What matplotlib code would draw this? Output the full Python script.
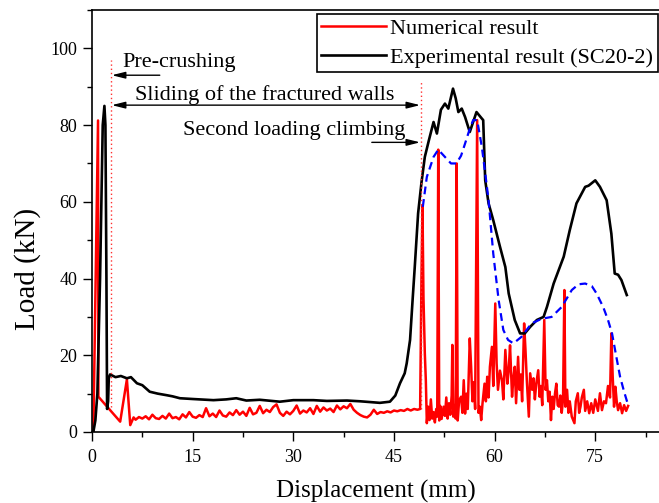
import matplotlib
matplotlib.use("Agg")
import matplotlib.pyplot as plt

# experimental curve (SC20-2)
exp_x = [0, 0.2, 0.5, 0.8, 1.2, 1.6, 1.85, 2.0, 2.15, 2.25, 2.4, 2.5, 2.7, 3.5, 4.3, 5.2,
         5.8, 6.7, 7.5, 8.6, 9.8, 11.1, 12.0, 13.1, 15.0, 18.1, 20.0, 21.5, 23.0, 25.0,
         28.0, 30.0, 33.0, 35.0, 38.0, 40.0, 42.9, 44.4, 45.2, 45.9, 46.6, 46.9, 47.4,
         47.8, 48.1, 48.6, 49.1, 49.6, 50.2, 50.9, 51.4, 52.0, 52.6, 53.1, 53.8, 54.2,
         54.6, 55.1, 55.6, 56.3, 57.3, 58.1, 58.3, 58.6, 59.1, 59.8, 60.8, 61.6, 62.1,
         63.0, 63.8, 64.5, 65.3, 66.3, 67.3, 67.8, 68.8, 70.3, 71.2, 72.2, 73.5, 74.0,
         75.0, 75.7, 76.7, 77.4, 77.9, 78.4, 78.9, 79.7]
exp_y = [0, 0, 3, 10, 40, 80, 85, 80, 40, 6, 8, 14, 15, 14.3, 14.6, 14.0,
         14.3, 12.7, 12.2, 10.5, 10.0, 9.6, 9.3, 8.8, 8.6, 8.3, 8.5, 8.8, 8.2, 8.4,
         7.9, 8.3, 8.3, 8.1, 8.2, 8.0, 7.6, 7.9, 9.5, 12.7, 15.3, 17.9, 24.0,
         35.0, 43.0, 57.0, 65.0, 71.7, 76.0, 80.8, 77.8, 84.0, 85.6, 84.3, 89.5, 87.0,
         83.4, 84.3, 82.1, 78.2, 83.4, 81.7, 81.3, 65.6, 59.6, 55.2, 48.3, 43.0, 36.1,
         29.2, 25.7, 25.7, 27.4, 29.2, 30.0, 32.6, 38.7, 45.7, 52.6, 59.6, 63.9, 64.2,
         65.6, 63.9, 60.4, 51.7, 41.3, 41.0, 39.6, 35.7]

# numerical curve
num_x = [0, 0.2, 0.9, 0.95, 4.2, 5.2, 5.7, 6.2,
         6.5, 7.0, 7.5, 8.0, 8.5, 9.0, 9.5, 10.0, 10.5, 11.0, 11.5, 12.0, 12.5, 13.0,
         13.5, 14.0, 14.5, 15.0, 15.5, 16.0, 16.5, 17.0, 17.5, 18.0, 18.5, 19.0, 19.5,
         20.0, 20.5, 21.0, 21.5, 22.0, 22.5, 23.0, 23.5, 24.0, 24.5, 25.0, 25.5, 26.0,
         26.5, 27.0, 27.5, 28.0, 28.5, 29.0, 29.5, 30.0, 30.5, 31.0, 31.5, 32.0, 32.5,
         33.0, 33.5, 34.0, 34.5, 35.0, 35.5, 36.0, 36.5, 37.0, 37.5, 38.0, 38.5, 39.0,
         39.5, 40.0, 40.5, 41.0, 41.5, 42.0, 42.5, 43.0, 43.5, 44.0, 44.5, 45.0, 45.5,
         46.0, 46.5, 47.0, 47.5, 48.0, 48.5,
         48.9, 49.1, 49.25, 49.4, 49.6, 49.75, 49.9, 50.1, 50.3, 50.5, 50.7, 50.9, 51.1,
         51.3, 51.45, 51.6, 51.75, 51.9, 52.1, 52.4, 52.6, 52.8, 53.0, 53.2, 53.4, 53.6,
         53.7, 53.85, 54.05, 54.2, 54.35, 54.5, 54.7, 55.0, 55.2, 55.4, 55.6, 55.8, 56.0,
         56.3, 56.5, 56.7, 56.9, 57.1, 57.4, 57.6, 57.8, 58.0, 58.2, 58.5, 58.7, 58.9,
         59.1, 59.3, 59.6, 59.8, 60.1, 60.3, 60.5, 60.8, 61.1, 61.3, 61.6, 61.9, 62.1,
         62.3, 62.6, 62.8, 63.0, 63.2, 63.5, 63.7, 63.9, 64.1, 64.4, 64.6, 64.8, 65.1,
         65.3, 65.6, 65.8, 66.0, 66.2, 66.5, 66.7, 66.9, 67.1, 67.4, 67.6, 67.8, 68.0,
         68.2, 68.4, 68.6, 68.8, 69.0, 69.2, 69.4, 69.6, 69.8, 70.0, 70.2, 70.4, 70.55,
         70.8, 71.0, 71.2, 71.5, 71.9, 72.1, 72.4, 72.6, 72.8, 73.0, 73.3, 73.5, 73.8,
         74.1, 74.4, 74.7, 75.0, 75.4, 75.7, 76.0, 76.3, 76.6, 76.9, 77.2, 77.4, 77.6,
         77.8, 78.0, 78.2, 78.4, 78.7, 79.0, 79.3, 79.6, 79.9]
num_y = [0, 0, 81.2, 9.2, 2.7, 13.7, 1.8, 3.8,
         3.2, 3.9, 3.5, 4.1, 3.3, 4.5, 3.6, 3.4, 4.2, 3.5, 4.8, 3.6, 3.9, 3.3,
         4.6, 3.8, 5.2, 4.0, 3.7, 4.4, 3.9, 6.2, 4.1, 4.8, 3.9, 5.6, 4.3,
         4.0, 5.1, 4.4, 5.7, 4.5, 5.3, 4.2, 6.3, 4.6, 5.0, 6.8, 4.9, 5.8,
         5.2, 6.5, 7.2, 5.0, 4.2, 5.3, 4.6, 5.5, 6.9, 4.8, 5.6, 5.1, 6.2,
         4.7, 6.8, 5.3, 6.4, 5.6, 6.1, 5.2, 6.9, 5.9, 6.7, 6.2, 7.3, 5.8,
         5.0, 4.4, 4.0, 3.8, 4.5, 5.8, 4.7, 5.2, 5.0, 5.4, 5.1, 5.6, 5.4,
         5.7, 5.5, 6.0, 5.6, 6.0, 5.8,
         6.0, 40.0, 59.0, 35.0, 20.5, 13.5, 2.3, 6.6, 3.1, 8.5, 3.5, 5.2, 2.5,
         6.0, 4.0, 73.6, 3.0, 6.8, 3.4, 6.6, 4.2, 9.0, 3.5, 7.5, 4.5, 9.5,
         22.7, 4.0, 7.0, 3.5, 70.0, 3.0, 8.0, 9.2, 5.0, 13.5, 4.8, 10.0, 6.0,
         24.4, 17.0, 8.0, 13.0, 6.0, 81.3, 5.0, 6.6, 3.1, 7.5, 12.6, 8.0, 14.4,
         9.0, 17.0, 22.2, 12.0, 33.5, 17.9, 11.0, 16.0, 13.5, 8.5, 21.4, 12.6, 16.0,
         22.6, 9.2, 14.0, 17.0, 7.5, 19.6, 11.0, 15.0, 8.0, 28.3, 21.4, 13.5, 4.0,
         15.3, 11.0, 14.0, 8.5, 12.5, 16.1, 9.2, 12.0, 7.0, 29.2, 11.0, 13.5, 8.0,
         10.5, 3.1, 9.2, 6.0, 10.0, 12.6, 7.0, 6.6, 9.5, 5.0, 8.5, 37.0, 6.6,
         11.0, 5.0, 8.0, 4.0, 2.3, 8.0, 10.1, 5.0, 6.6, 9.0, 11.0, 5.5, 8.0,
         4.9, 7.5, 5.0, 8.5, 5.5, 10.1, 5.7, 8.0, 7.5, 12.0, 9.0, 25.7, 14.4,
         6.6, 11.8, 8.0, 5.7, 7.5, 4.9, 7.0, 5.5, 6.8]

# envelope of the numerical peaks
env_x = [49.3, 49.9, 50.9, 51.6, 52.6, 53.5, 54.3, 55.0, 55.6, 56.2, 56.8, 57.4, 58.1,
         58.6, 59.1, 59.8, 60.6, 61.3, 62.0, 62.8, 64.0, 65.5, 67.0, 68.5, 70.0, 71.5,
         72.5, 73.5, 74.5, 75.2, 76.2, 76.9, 77.5, 78.1, 78.7, 79.3, 79.9]
env_y = [58.7, 66.5, 71.7, 73.6, 71.7, 70.0, 70.0, 72.0, 75.2, 78.5, 81.3, 81.3, 74.3,
         67.5, 60.4, 46.5, 34.4, 26.6, 24.0, 23.1, 24.8, 28.3, 29.5, 30.0, 32.6, 37.0,
         38.5, 38.7, 38.0, 36.1, 32.5, 29.2, 25.7, 20.0, 14.4, 10.5, 7.0]

plt.rcParams['font.family'] = 'Liberation Serif'

fig = plt.figure(figsize=(6.59, 5.03), dpi=100)
ax = fig.add_axes([92/659, 71/503, 567/659, 422/503])

ax.plot(num_x, num_y, color='red', lw=1.8, label='Numerical result')
ax.plot(exp_x, exp_y, color='black', lw=1.9, label='Experimental result (SC20-2)')
ax.plot(env_x, env_y, color='blue', lw=1.6, dashes=(3.5, 2.2))

# stage markers
ax.plot([2.83, 2.83], [6.5, 97], color='#ff3030', lw=1, ls=(0, (1, 2)))
ax.plot([49.0, 49.0], [6.0, 91.7], color='#ff3030', lw=1, ls=(0, (1, 2)))

arrow = dict(arrowstyle='-|>,head_length=0.8,head_width=0.2', color='black', lw=1,
             shrinkA=0, shrinkB=0)
ax.annotate('', xy=(2.95, 93), xytext=(10.1, 93), arrowprops=arrow)
ax.annotate('', xy=(2.95, 85.2), xytext=(48.9, 85.2),
            arrowprops=dict(arrow, arrowstyle='<|-|>,head_length=0.8,head_width=0.2'))
ax.annotate('', xy=(48.9, 75.5), xytext=(41.7, 75.5), arrowprops=arrow)
ax.text(4.6, 96.4, 'Pre-crushing', fontsize=16, va='center', ha='left')
ax.text(6.4, 87.8, 'Sliding of the fractured walls', fontsize=16, va='center', ha='left')
ax.text(13.6, 78.5, 'Second loading climbing', fontsize=16, va='center', ha='left')

ax.set_xlim(0, 84.5)
ax.set_ylim(0, 110)
ax.set_xticks([0, 15, 30, 45, 60, 75])
ax.set_xticks([7.5, 22.5, 37.5, 52.5, 67.5, 82.5], minor=True)
ax.set_yticks([0, 20, 40, 60, 80, 100])
ax.set_yticks([10, 30, 50, 70, 90, 110], minor=True)
ax.tick_params(which='major', direction='out', length=6.5, width=1, labelsize=13, pad=4)
ax.tick_params(axis='x', which='major', pad=6)
ax.tick_params(which='minor', direction='out', length=3.3, width=1)
ax.spines['right'].set_visible(False)
for s in ['left', 'bottom', 'top']:
    ax.spines[s].set_linewidth(1.2)

ax.set_xlabel('Displacement (mm)', fontsize=18, labelpad=10)
fig.text(28/659, 1 - 269/503, 'Load (kN)', fontsize=21, rotation=90, ha='center', va='center')

leg = ax.legend(loc='upper right', bbox_to_anchor=(657.7/659, 1 - 14/503),
                bbox_transform=fig.transFigure, borderaxespad=0, fontsize=16,
                fancybox=False, edgecolor='black', framealpha=1, handlelength=2.9,
                handletextpad=0.2, labelspacing=0.37, borderpad=0.2)
leg.get_frame().set_linewidth(1.2)

fig.savefig('out.png', dpi=100)
